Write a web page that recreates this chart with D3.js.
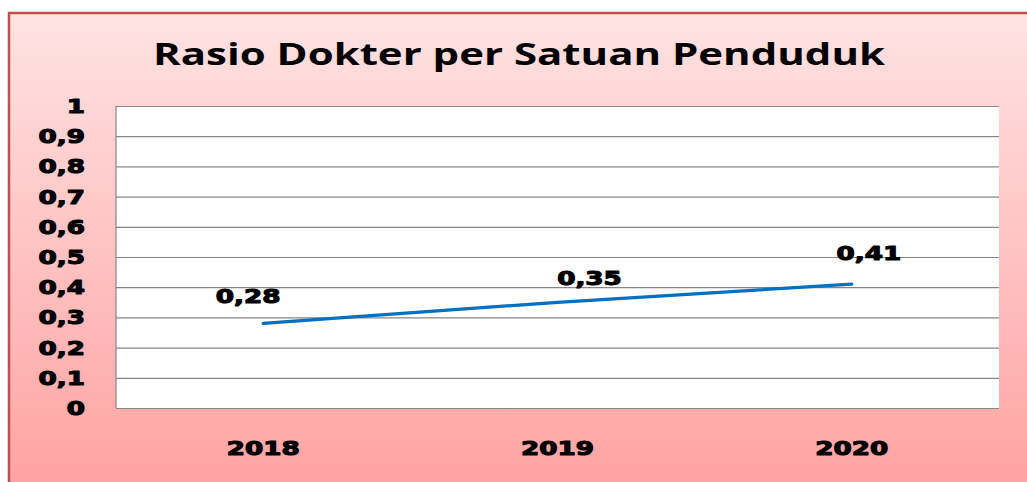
<!DOCTYPE html>
<html>
<head>
<meta charset="utf-8">
<script src="https://cdn.jsdelivr.net/npm/d3@7"></script>
<style>
  body { margin: 0; background: #fff; }
  svg { display: block; }
</style>
</head>
<body>
<div id="chart"></div>
<script>
const title = 'Rasio Dokter per Satuan Penduduk';
const years = ['2018', '2019', '2020'];
const ratio = [0.28, 0.35, 0.41];
const yTicks = [0, 0.1, 0.2, 0.3, 0.4, 0.5, 0.6, 0.7, 0.8, 0.9, 1];

const width = 1027;
const height = 482;
const plot = { left: 116, top: 106, right: 999, bottom: 408 };
// label nudges relative to each point, as in the original
const labelOffset = [[-15, -20], [32, -17], [17, -24]];
const stretch = 1.38;
const fmt = (v) => String(v).replace('.', ',');

const svg = d3
  .select('#chart')
  .append('svg')
  .attr('width', width)
  .attr('height', height);

const defs = svg.append('defs');
const grad = defs
  .append('linearGradient')
  .attr('id', 'bg')
  .attr('x1', 0)
  .attr('y1', 0)
  .attr('x2', 0)
  .attr('y2', 1);
grad.append('stop').attr('offset', '0%').attr('stop-color', '#ffe3e3');
grad.append('stop').attr('offset', '100%').attr('stop-color', '#ffa1a1');

svg
  .append('rect')
  .attr('x', 9)
  .attr('y', 13)
  .attr('width', width + 10)
  .attr('height', height)
  .attr('fill', 'url(#bg)')
  .attr('stroke', '#c0504d')
  .attr('stroke-width', 2.5);

svg
  .append('text')
  .attr('x', 519)
  .attr('y', 65)
  .attr('text-anchor', 'middle')
  .attr('font-family', 'Open Sans, sans-serif')
  .attr('font-weight', 'bold')
  .attr('font-size', 30)
  .attr('textLength', 732)
  .attr('lengthAdjust', 'spacingAndGlyphs')
  .attr('fill', '#000')
  .text(title);

const x = d3.scaleBand().domain(years).range([plot.left, plot.right]);
const y = d3.scaleLinear().domain([0, 1]).range([plot.bottom, plot.top]);

svg
  .append('rect')
  .attr('x', plot.left)
  .attr('y', plot.top)
  .attr('width', plot.right - plot.left)
  .attr('height', plot.bottom - plot.top)
  .attr('fill', '#fff');

// grid lines
svg
  .append('g')
  .attr('transform', `translate(${plot.left},0)`)
  .call(d3.axisLeft(y).tickValues(yTicks).tickSize(-(plot.right - plot.left)).tickFormat(''))
  .call((g) => g.select('.domain').remove())
  .selectAll('line')
  .attr('stroke', '#868686')
  .attr('stroke-width', 1.2);

svg
  .append('line')
  .attr('x1', plot.left)
  .attr('x2', plot.left)
  .attr('y1', plot.top)
  .attr('y2', plot.bottom)
  .attr('stroke', '#868686')
  .attr('stroke-width', 1.2);

const heavy = (sel, size) =>
  sel
    .attr('font-family', 'DejaVu Sans, sans-serif')
    .attr('font-weight', 'bold')
    .attr('font-size', size)
    .attr('fill', '#000')
    .attr('stroke', '#000')
    .attr('stroke-width', 1.1)
    .attr('stroke-linejoin', 'round');

const widen = (sel) =>
  sel.each(function () {
    const w = this.getComputedTextLength();
    d3.select(this).attr('textLength', w * stretch).attr('lengthAdjust', 'spacingAndGlyphs');
  });

// y tick labels
svg
  .append('g')
  .selectAll('text')
  .data(yTicks)
  .join('text')
  .attr('x', 85)
  .attr('y', (d) => y(d) + 7)
  .attr('text-anchor', 'end')
  .call(heavy, 19)
  .text(fmt)
  .call(widen);

// x labels
svg
  .append('g')
  .selectAll('text')
  .data(years)
  .join('text')
  .attr('x', (d) => x(d) + x.bandwidth() / 2)
  .attr('y', 455)
  .attr('text-anchor', 'middle')
  .call(heavy, 19)
  .text((d) => d)
  .call(widen);

const pts = years.map((d, i) => ({ year: d, value: ratio[i] }));
const line = d3
  .line()
  .x((d) => x(d.year) + x.bandwidth() / 2)
  .y((d) => y(d.value));

svg
  .append('path')
  .datum(pts)
  .attr('fill', 'none')
  .attr('stroke', '#0070c0')
  .attr('stroke-width', 3.2)
  .attr('stroke-linecap', 'round')
  .attr('d', line);

svg
  .append('g')
  .selectAll('text')
  .data(pts)
  .join('text')
  .attr('x', (d, i) => x(d.year) + x.bandwidth() / 2 + labelOffset[i][0])
  .attr('y', (d, i) => y(d.value) + labelOffset[i][1])
  .attr('text-anchor', 'middle')
  .call(heavy, 19)
  .text((d) => fmt(d.value))
  .call(widen);
</script>
</body>
</html>
